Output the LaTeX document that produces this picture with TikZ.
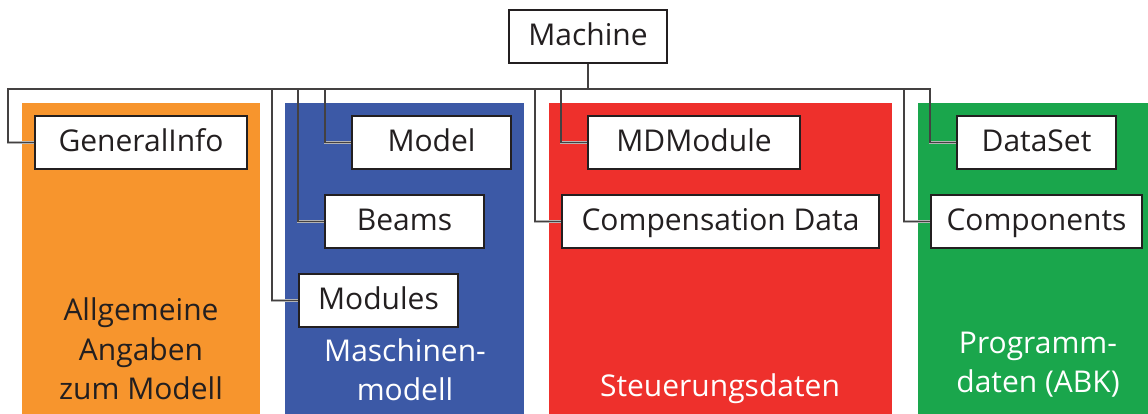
\documentclass[tikz,border=0pt]{standalone}
\usepackage{fontspec}
\setmainfont{Open Sans}
\usetikzlibrary{calc}
\definecolor{ink}{HTML}{231F20}
\definecolor{panelorange}{HTML}{F7952D}
\definecolor{panelblue}{HTML}{3C59A6}
\definecolor{panelred}{HTML}{EE302C}
\definecolor{panelgreen}{HTML}{1AA64C}
\tikzset{
  classbox/.style={draw=ink, line width=2pt, fill=white, text=ink,
    minimum height=53pt, inner sep=0pt, text height=21.5pt, text depth=4pt,
    font=\fontsize{30}{36}\selectfont},
  panellabel/.style={align=center, anchor=base, inner sep=0pt,
    font=\fontsize{30}{39.5}\selectfont},
  linkhalo/.style={draw=black!30, line width=2.6pt},
  linkcore/.style={draw=ink!85, line width=1.3pt},
}
\begin{document}
\begin{tikzpicture}[x=1pt, y=-1pt]
\useasboundingbox (0,0) rectangle (1148,414);

% coloured background panels
\fill[panelorange] (22,103) rectangle (260,414);
\fill[panelblue]   (285,103) rectangle (524,414);
\fill[panelred]    (549,103) rectangle (892,414);
\fill[panelgreen]  (918,103) rectangle (1148,414);

% panel captions (anchored at the baseline of the last line)
\node[panellabel, text=ink]   at (141,399.5) {Allgemeine\\Angaben\\zum Modell};
\node[panellabel, text=white] at (405,400.7) {Maschinen-\\modell};
\node[panellabel, text=white] at (720,396)   {Steuerungsdaten};
\node[panellabel, text=white] at (1038,392.7) {Programm-\\daten (ABK)};

% class boxes
\node[classbox, minimum width=158pt] (machine) at (588,36.5)   {Machine};
\node[classbox, minimum width=212pt] (gi)      at (141,142.5)  {GeneralInfo};
\node[classbox, minimum width=159pt] (model)   at (431.5,142.5) {Model};
\node[classbox, minimum width=159pt] (beams)   at (404.5,221.5) {Beams};
\node[classbox, minimum width=159pt] (modules) at (378.5,300.5) {Modules};
\node[classbox, minimum width=212pt] (mdm)     at (694,142.5)  {MDModule};
\node[classbox, minimum width=317pt] (comp)    at (720.5,221.5) {Compensation Data};
\node[classbox, minimum width=159pt] (ds)      at (1036.5,142.5) {DataSet};
\node[classbox, minimum width=211pt] (compo)   at (1036.5,221.5) {Components};

% junction on the bus below Machine
\coordinate (bus) at (588,89);

% tree connectors: light halo first, dark core on top
\foreach \lk in {linkhalo,linkcore}{
  \draw[\lk] (machine.south) -- (bus);
  \foreach \c in {gi,model,beams,modules,mdm,comp,ds,compo}
    \draw[\lk] (bus) -| ([xshift=-26pt]\c.west) -- (\c.west);
}
\end{tikzpicture}
\end{document}
